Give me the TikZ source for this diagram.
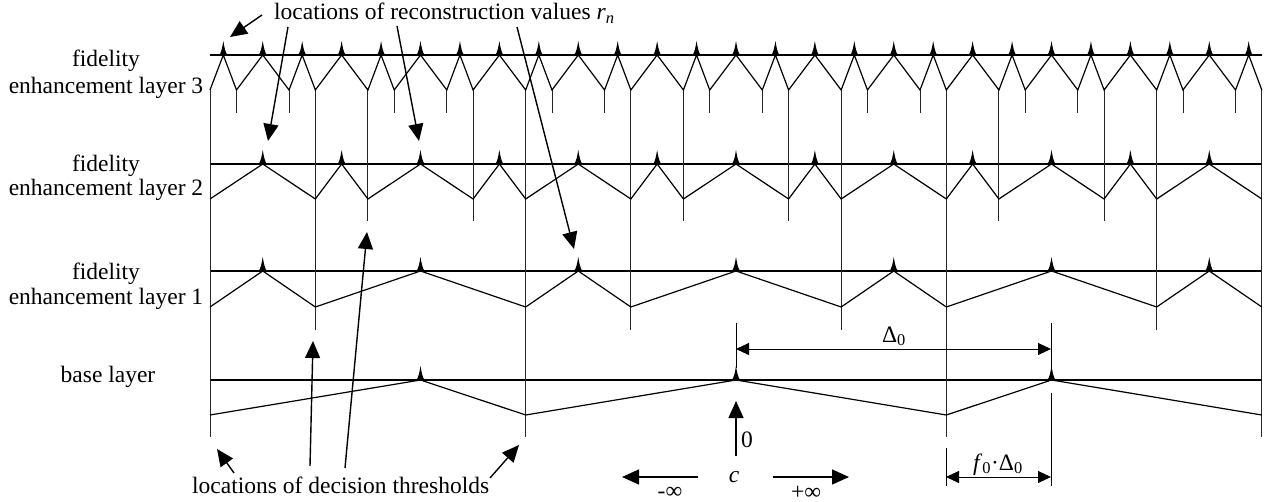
\documentclass[tikz,border=0pt]{standalone}
\usepackage{fontspec}
\setmainfont{Liberation Serif}
\usetikzlibrary{arrows.meta}

\begin{document}
\begin{tikzpicture}[x=1pt,y=-1pt,
  lvl/.style={line width=1.2pt},
  zig/.style={line width=1.2pt, line join=miter},
  thr/.style={line width=0.9pt, black!85},
  callout/.style={line width=1.4pt, -{Triangle[length=17pt,width=15pt]}},
  dimline/.style={line width=0.9pt, {Triangle[length=13pt,width=12pt]}-{Triangle[length=13pt,width=12pt]}},
  extline/.style={line width=0.9pt},
  lbl/.style={font=\fontsize{23.5}{27}\selectfont, inner sep=0pt},
  recmark/.pic={\fill (-4.5,0.5) .. controls (-2,-2) and (-1,-8) .. (0,-14)
                 .. controls (1,-8) and (2,-2) .. (4.5,0.5) -- cycle;},
]
\useasboundingbox (0,0) rectangle (1271,502);
\def\cc{736}
\def\uu{52.583}

% ---------- horizontal layer axes ----------
\foreach \yl in {55,164,271,380}
  \draw[lvl] (210,\yl) -- (1262,\yl);

% ---------- decision threshold lines (drawn down to the lowest layer using them) ----------
\foreach \t in {-10,-4,4,10}
  \draw[thr] ({\cc+\uu*\t},90) -- ({\cc+\uu*\t},437);
\foreach \t in {-8,-2,2,8}
  \draw[thr] ({\cc+\uu*\t},90) -- ({\cc+\uu*\t},330);
\foreach \t in {-7,-5,-1,1,5,7}
  \draw[thr] ({\cc+\uu*\t},90) -- ({\cc+\uu*\t},221);
\foreach \t in {-9.5,-8.5,-6.5,-5.5,-3.5,-2.5,-0.5,0.5,2.5,3.5,5.5,6.5,8.5,9.5}
  \draw[thr] ({\cc+\uu*\t},90) -- ({\cc+\uu*\t},113);

% ---------- zigzags: threshold (bottom) / reconstruction value (axis) ----------
% layer 3
\draw[zig] (210,90) \foreach \p [count=\k, evaluate=\k as \yy using {isodd(\k) ? 55 : 90}] in
  {-9.75,-9.5,-9,-8.5,-8.25,-8,-7.5,-7,-6.75,-6.5,-6,-5.5,-5.25,-5,-4.5,-4,-3.75,-3.5,-3,-2.5,-2.25,-2,-1.5,-1,-0.75,-0.5,0,0.5,0.75,1,1.5,2,2.25,2.5,3,3.5,3.75,4,4.5,5,5.25,5.5,6,6.5,6.75,7,7.5,8,8.25,8.5,9,9.5,9.75,10}
  { -- ({\cc+\uu*\p},\yy) };
% layer 2
\draw[zig] (210,199) \foreach \p [count=\k, evaluate=\k as \yy using {isodd(\k) ? 164 : 199}] in
  {-9,-8,-7.5,-7,-6,-5,-4.5,-4,-3,-2,-1.5,-1,0,1,1.5,2,3,4,4.5,5,6,7,7.5,8,9,10}
  { -- ({\cc+\uu*\p},\yy) };
% layer 1
\draw[zig] (210,307) \foreach \p [count=\k, evaluate=\k as \yy using {isodd(\k) ? 271 : 307}] in
  {-9,-8,-6,-4,-3,-2,0,2,3,4,6,8,9,10}
  { -- ({\cc+\uu*\p},\yy) };
% base layer
\draw[zig] (210,415) \foreach \p [count=\k, evaluate=\k as \yy using {isodd(\k) ? 380 : 415}] in
  {-6,-4,0,4,6,10}
  { -- ({\cc+\uu*\p},\yy) };

% ---------- reconstruction value markers ----------
\foreach \p in {-9.75,-9,...,9.8}  \pic at ({\cc+\uu*\p},55) {recmark};
\foreach \p in {-9,-7.5,...,9.1}   \pic at ({\cc+\uu*\p},164) {recmark};
\foreach \p in {-9,-6,...,9.1}     \pic at ({\cc+\uu*\p},271) {recmark};
\foreach \p in {-6,0,6}            \pic at ({\cc+\uu*\p},380) {recmark};

% ---------- layer names ----------
\node[lbl, anchor=base] (f3a) at (106,67)  {fidelity};
\node[lbl, anchor=base] (f3b) at (106,94)  {enhancement layer 3};
\node[lbl, anchor=base] (f2a) at (106,172) {fidelity};
\node[lbl, anchor=base] (f2b) at (106,196) {enhancement layer 2};
\node[lbl, anchor=base] (f1a) at (106,280) {fidelity};
\node[lbl, anchor=base] (f1b) at (106,305) {enhancement layer 1};
\node[lbl, anchor=base] (bl)  at (108,382) {base layer};

% ---------- reconstruction value callouts ----------
\node[lbl, anchor=base west] (rn) at (274,20)
  {locations of reconstruction values \textit{r}\textsubscript{\textit{n}}};
\coordinate (ra0) at (262,15);  \coordinate (ra1) at (230,37);
\coordinate (rb0) at (288,27);  \coordinate (rb1) at (268,141);
\coordinate (rc0) at (397,26);  \coordinate (rc1) at (419,141);
\coordinate (rd0) at (517,27);  \coordinate (rd1) at (574,249);
\draw[callout] (ra0) -- (ra1);
\draw[callout] (rb0) -- (rb1);
\draw[callout] (rc0) -- (rc1);
\draw[callout] (rd0) -- (rd1);

% ---------- decision threshold callouts ----------
\node[lbl, anchor=base west] (dt) at (192,493) {locations of decision thresholds};
\coordinate (ta0) at (234,473); \coordinate (ta1) at (217,449);
\coordinate (tb0) at (310,466); \coordinate (tb1) at (313,341);
\coordinate (tc0) at (345,468); \coordinate (tc1) at (367,232);
\coordinate (td0) at (490,478); \coordinate (td1) at (519,445);
\draw[callout] (ta0) -- (ta1);
\draw[callout] (tb0) -- (tb1);
\draw[callout] (tc0) -- (tc1);
\draw[callout] (td0) -- (td1);

% ---------- step size Delta_0 ----------
\coordinate (d0a) at (736,323); \coordinate (d0b) at (1051,323);
\draw[extline] (d0a) -- (736,368);
\draw[extline] (d0b) -- (1051,368);
\coordinate (d0l) at (736,349); \coordinate (d0r) at (1051,349);
\draw[dimline] (d0l) -- (d0r);
\node[lbl, anchor=base] (dlt) at (894,342) {Δ\textsubscript{0}};

% ---------- dead-zone offset f_0 Delta_0 ----------
\coordinate (fa0) at (946,448); \coordinate (fa1) at (946,486);
\coordinate (fb0) at (1051,393); \coordinate (fb1) at (1051,486);
\draw[extline] (fa0) -- (fa1);
\draw[extline] (fb0) -- (fb1);
\coordinate (fl) at (946,477); \coordinate (fr) at (1051,477);
\draw[dimline] (fl) -- (fr);
\node[lbl, anchor=base] (fdl) at (998,470) {\textit{f}\textsubscript{0}·Δ\textsubscript{0}};

% ---------- origin c and directions ----------
\coordinate (z0) at (736,456); \coordinate (z1) at (736,401);
\draw[callout] (z0) -- (z1);
\node[lbl, anchor=base west] (zero) at (741,447) {0};
\node[lbl, anchor=base] (cc) at (734,482) {\textit{c}};
\coordinate (ma) at (698,477); \coordinate (mb) at (622,477);
\coordinate (pa) at (773,477); \coordinate (pb) at (849,477);
\draw[callout] (ma) -- (mb);
\draw[callout] (pa) -- (pb);
\node[lbl, anchor=base] (minf) at (670,498) {-∞};
\node[lbl, anchor=base] (pinf) at (806,499) {+∞};
\end{tikzpicture}
\end{document}
